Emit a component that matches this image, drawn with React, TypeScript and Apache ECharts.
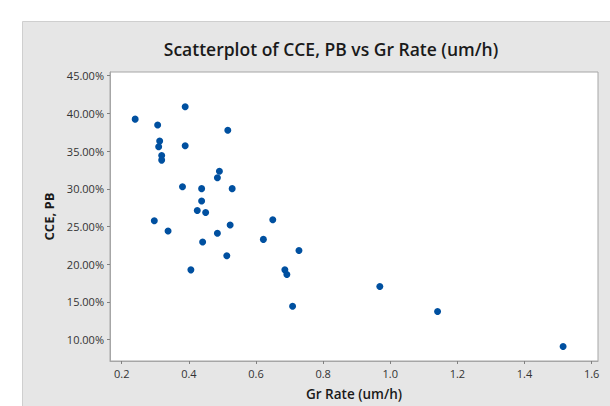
import React, { useEffect, useRef } from "react";
import * as echarts from "echarts";

const grRate: number[] = [
  0.389, 0.240, 0.307, 0.516, 0.313, 0.310, 0.389, 0.319, 0.319, 0.491, 0.485,
  0.381, 0.438, 0.529, 0.438, 0.425, 0.450, 0.297, 0.650, 0.523, 0.338, 0.485,
  0.622, 0.441, 0.728, 0.513, 0.406, 0.686, 0.692, 1.141, 0.969, 1.515, 0.709,
];
const ccePb: number[] = [
  40.88, 39.23, 38.45, 37.76, 36.32, 35.58, 35.71, 34.41, 33.80, 32.32, 31.45,
  30.28, 30.02, 30.02, 28.37, 27.11, 26.85, 25.77, 25.90, 25.20, 24.41, 24.11,
  23.29, 22.94, 21.81, 21.12, 19.25, 19.25, 18.64, 13.73, 17.04, 9.09, 14.43,
];
const xTicks: number[] = [0.2, 0.4, 0.6, 0.8, 1.0, 1.2, 1.4, 1.6];
const yTicks: number[] = [10, 15, 20, 25, 30, 35, 40, 45];

const title = "Scatterplot of CCE, PB vs Gr Rate (um/h)";
const xName = "Gr Rate (um/h)";
const yName = "CCE, PB";

export default function App() {
  const ref = useRef<HTMLDivElement>(null);
  useEffect(() => {
    if (!ref.current) return;
    const chart = echarts.init(ref.current, null, { renderer: "svg" });
    const font = "'Open Sans', 'Noto Sans', sans-serif";
    chart.setOption({
      animation: false,
      backgroundColor: "#ffffff",
      graphic: [
        {
          type: "rect",
          z: -10,
          silent: true,
          shape: { x: 22.5, y: 21.5, width: 600, height: 400 },
          style: { fill: "#e6e6e6", stroke: "#cfcfcf", lineWidth: 1 },
        },
      ],
      title: {
        text: title,
        left: 326,
        top: 35,
        textAlign: "center",
        textStyle: { fontFamily: font, fontSize: 17.5, fontWeight: 600, color: "#1a1a1a" },
      },
      grid: {
        left: 110,
        top: 72,
        right: 12,
        bottom: 40,
        show: true,
        backgroundColor: "#ffffff",
        borderColor: "#a6a6a6",
        borderWidth: 1,
        z: 0,
      },
      xAxis: {
        type: "value",
        min: 0.165,
        max: 1.619,
        name: xName,
        nameLocation: "middle",
        nameGap: 26,
        nameTextStyle: { fontFamily: font, fontSize: 13.5, fontWeight: 600, color: "#1a1a1a" },
        axisLine: { show: true, lineStyle: { color: "#a6a6a6" } },
        axisTick: { show: true, length: 3, customValues: xTicks, lineStyle: { color: "#808080" } },
        axisLabel: {
          customValues: xTicks,
          margin: 7,
          fontFamily: font,
          fontSize: 11,
          color: "#333333",
          formatter: (v: number) => v.toFixed(1),
        },
        splitLine: { show: false },
      },
      yAxis: {
        type: "value",
        min: 7.17,
        max: 45.48,
        name: yName,
        nameLocation: "middle",
        nameGap: 51,
        nameRotate: 90,
        nameTextStyle: { fontFamily: font, fontSize: 13, fontWeight: "bold", color: "#1a1a1a" },
        axisLine: { show: true, lineStyle: { color: "#a6a6a6" } },
        axisTick: { show: true, length: 3, customValues: yTicks, lineStyle: { color: "#808080" } },
        axisLabel: {
          customValues: yTicks,
          margin: 6,
          fontFamily: font,
          fontSize: 11,
          color: "#333333",
          formatter: (v: number) => v.toFixed(2) + "%",
        },
        splitLine: { show: false },
      },
      series: [
        {
          type: "scatter",
          symbol: "circle",
          symbolSize: 7,
          itemStyle: { color: "#0050a0", opacity: 1 },
          data: grRate.map((x, i) => [x, ccePb[i]]),
        },
      ],
    });
    return () => chart.dispose();
  }, []);
  return (
    <div
      ref={ref}
      style={{ position: "fixed", left: 0, top: 0, width: 610, height: 406 }}
    />
  );
}
